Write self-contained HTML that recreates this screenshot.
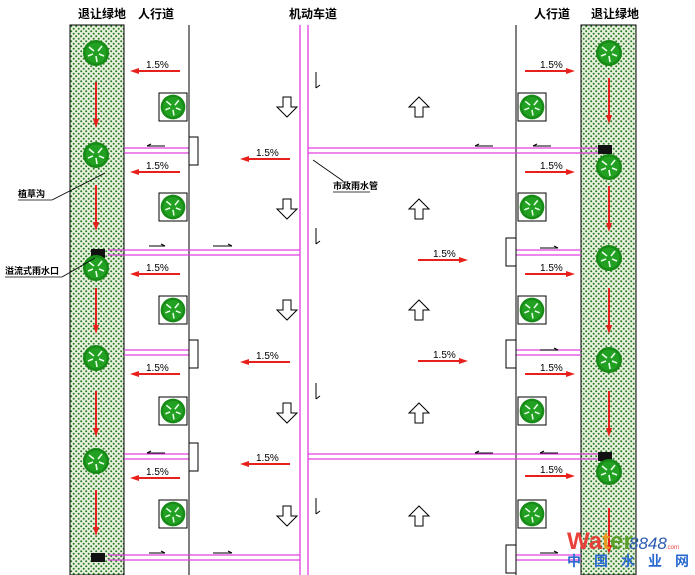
<!DOCTYPE html>
<html><head><meta charset="utf-8"><style>
html,body{margin:0;padding:0;background:#fff;}
svg{display:block;}
text{font-family:"Liberation Sans","Noto Sans CJK SC",sans-serif;}
</style></head><body>
<svg width="695" height="575" viewBox="0 0 695 575" xmlns="http://www.w3.org/2000/svg">
<defs>
<pattern id="dots" width="5" height="5" patternUnits="userSpaceOnUse">
<rect width="5" height="5" fill="#e6f0dc"/>
<circle cx="1.2" cy="1.2" r="1" fill="#2a7a26"/>
<circle cx="3.7" cy="3.7" r="1" fill="#2a7a26"/>
</pattern>
<g id="tree">
<circle r="13" fill="#178a17"/>
<circle r="10.5" fill="#22a022"/>
<path d="M-2,-2 L-7,-6 M2,-2 L6,-7 M0,3 L1,9 M-3,1 L-8,3 M3,1 L8,3" stroke="#e8ffe8" stroke-width="1.6"/>
</g>
<g id="tbox"><rect x="-14" y="-14" width="28" height="28" fill="#fff" stroke="#000" stroke-width="1"/><use href="#tree" transform="scale(0.95)"/></g>
<g id="la"><line x1="-20" y1="0" x2="25" y2="0" stroke="#e8201c" stroke-width="2"/><polygon points="-25,0 -16,-3 -16,3" fill="#e8201c"/><text x="-9" y="-3" font-size="10">1.5%</text></g>
<g id="ra"><line x1="-25" y1="0" x2="20" y2="0" stroke="#e8201c" stroke-width="2"/><polygon points="25,0 16,-3 16,3" fill="#e8201c"/><text x="-10" y="-3" font-size="10">1.5%</text></g>
<g id="va"><line x1="0" y1="-22" x2="0" y2="18" stroke="#e8201c" stroke-width="2"/><polygon points="0,24 -3,15 3,15" fill="#e8201c"/></g>
<polygon id="dn" points="-4,-10 4,-10 4,0 10,0 0,10 -10,0 -4,0" fill="#fff" stroke="#000" stroke-width="1"/>
<polygon id="up" points="-4,10 4,10 4,0 10,0 0,-10 -10,0 -4,0" fill="#fff" stroke="#000" stroke-width="1"/>
<g id="sd"><line x1="0" y1="-8" x2="0" y2="8" stroke="#000"/><line x1="0" y1="8" x2="4" y2="5" stroke="#000"/></g>
</defs>

<rect x="70" y="25" width="54" height="550" fill="url(#dots)" stroke="#000"/>
<rect x="581" y="25" width="55" height="550" fill="url(#dots)" stroke="#000"/>
<line x1="189" y1="25" x2="189" y2="575" stroke="#000"/>
<line x1="516" y1="25" x2="516" y2="575" stroke="#000"/>
<line x1="300" y1="25" x2="300" y2="575" stroke="#e040e0" stroke-width="1.3"/>
<line x1="308" y1="25" x2="308" y2="575" stroke="#e040e0" stroke-width="1.3"/>

<g font-size="12" fill="#000" font-weight="bold">
<text x="78" y="18">退让绿地</text>
<text x="138" y="18">人行道</text>
<text x="289" y="18">机动车道</text>
<text x="534" y="18">人行道</text>
<text x="591" y="18">退让绿地</text>
</g>

<g stroke="#e040e0" stroke-width="1.2" fill="none">
<path d="M124,148H189M124,153H189"/>
<path d="M108,250H300M108,255H300"/>
<path d="M124,350H189M124,355H189"/>
<path d="M124,454H189M124,459H189"/>
<path d="M108,555H300M108,560H300"/>
<path d="M308,148H600M308,153H600"/>
<path d="M516,250H581M516,255H581"/>
<path d="M516,350H581M516,355H581"/>
<path d="M308,454H600M308,459H600"/>
<path d="M516,555H581M516,560H581"/>
</g>
<g fill="#fff" stroke="#000">
<rect x="189" y="137" width="9" height="28"/>
<rect x="189" y="340" width="9" height="28"/>
<rect x="189" y="443" width="9" height="28"/>
<rect x="506" y="238" width="10" height="28"/>
<rect x="506" y="340" width="10" height="28"/>
<rect x="506" y="545" width="10" height="28"/>
</g>
<g fill="#111">
<rect x="91" y="249" width="14" height="9"/>
<rect x="91" y="553" width="14" height="9"/>
<rect x="598" y="145" width="14" height="9"/>
<rect x="598" y="452" width="14" height="9"/>
</g>
<g stroke="#000" stroke-width="1" fill="none">
<path d="M147,146H165M147,146l4,-2"/>
<path d="M147,453H165M147,453l4,-2"/>
<path d="M149,246H165M165,246l-4,-2"/>
<path d="M149,553H165M165,553l-4,-2"/>
<path d="M213,246H232M232,246l-4,-2"/>
<path d="M213,553H232M232,553l-4,-2"/>
<path d="M475,146H493M475,146l4,-2"/>
<path d="M475,453H493M475,453l4,-2"/>
<path d="M533,146H551M533,146l4,-2"/>
<path d="M540,248H558M558,248l-4,-2"/>
<path d="M540,350H558M558,350l-4,-2"/>
<path d="M540,553H558M558,553l-4,-2"/>
<path d="M540,453H558M540,453l4,-2"/>
</g>

<use href="#tree" x="96" y="53"/><use href="#tree" x="96" y="155"/><use href="#tree" x="96" y="268"/><use href="#tree" x="96" y="358"/><use href="#tree" x="96" y="461"/>
<use href="#tree" x="609" y="53"/><use href="#tree" x="609" y="167"/><use href="#tree" x="609" y="258"/><use href="#tree" x="609" y="360"/><use href="#tree" x="609" y="472"/>
<use href="#va" x="96" y="104"/><use href="#va" x="96" y="207"/><use href="#va" x="96" y="310"/><use href="#va" x="96" y="413"/><use href="#va" x="96" y="512"/>
<use href="#va" x="609" y="100"/><use href="#va" x="609" y="208"/><use href="#va" x="609" y="310"/><use href="#va" x="609" y="413"/><use href="#va" x="609" y="530"/>

<use href="#tbox" x="173" y="107"/><use href="#tbox" x="173" y="207"/><use href="#tbox" x="173" y="310"/><use href="#tbox" x="173" y="411"/><use href="#tbox" x="173" y="514"/>
<use href="#tbox" x="532" y="107"/><use href="#tbox" x="532" y="207"/><use href="#tbox" x="532" y="310"/><use href="#tbox" x="532" y="411"/><use href="#tbox" x="532" y="514"/>

<use href="#la" x="155" y="71"/><use href="#la" x="155" y="172"/><use href="#la" x="155" y="274"/><use href="#la" x="155" y="374"/><use href="#la" x="155" y="478"/>
<use href="#la" x="265" y="159"/><use href="#la" x="265" y="362"/><use href="#la" x="265" y="464"/>
<use href="#ra" x="443" y="260"/><use href="#ra" x="443" y="361"/>
<use href="#ra" x="550" y="71"/><use href="#ra" x="550" y="172"/><use href="#ra" x="550" y="274"/><use href="#ra" x="550" y="374"/><use href="#ra" x="550" y="476"/>

<use href="#dn" x="287" y="107"/><use href="#dn" x="287" y="209"/><use href="#dn" x="287" y="310"/><use href="#dn" x="287" y="413"/><use href="#dn" x="287" y="516"/>
<use href="#up" x="419" y="107"/><use href="#up" x="419" y="209"/><use href="#up" x="419" y="310"/><use href="#up" x="419" y="413"/><use href="#up" x="419" y="516"/>
<use href="#sd" x="316" y="80"/><use href="#sd" x="316" y="236"/><use href="#sd" x="316" y="391"/><use href="#sd" x="316" y="506"/>

<g font-size="9" fill="#000" font-weight="bold">
<text x="18" y="197">植草沟</text>
<text x="5" y="274">溢流式雨水口</text>
<text x="333" y="189">市政雨水管</text>
</g>
<g stroke="#000" stroke-width="0.8">
<line x1="18" y1="200" x2="52" y2="200"/><line x1="52" y1="200" x2="105" y2="173"/>
<line x1="5" y1="277" x2="62" y2="277"/><line x1="62" y1="277" x2="95" y2="258"/>
<line x1="313" y1="160" x2="343" y2="181"/><line x1="333" y1="192" x2="370" y2="192"/>
</g>

<text x="567" y="549" font-size="24" font-weight="bold" fill="#e8403a">Wa<tspan fill="#e89a20">t</tspan><tspan fill="#5aa02a">er</tspan></text>
<text x="629" y="549" font-size="17" font-style="italic" fill="#2a5ab0" font-family="Liberation Serif,serif">8848</text>
<text x="666" y="549" font-size="6" fill="#e8403a">.com</text>
<text x="567" y="566" font-size="14" font-weight="bold" fill="#2a6ad0" letter-spacing="13">中国水业网</text>
</svg>
</body></html>
